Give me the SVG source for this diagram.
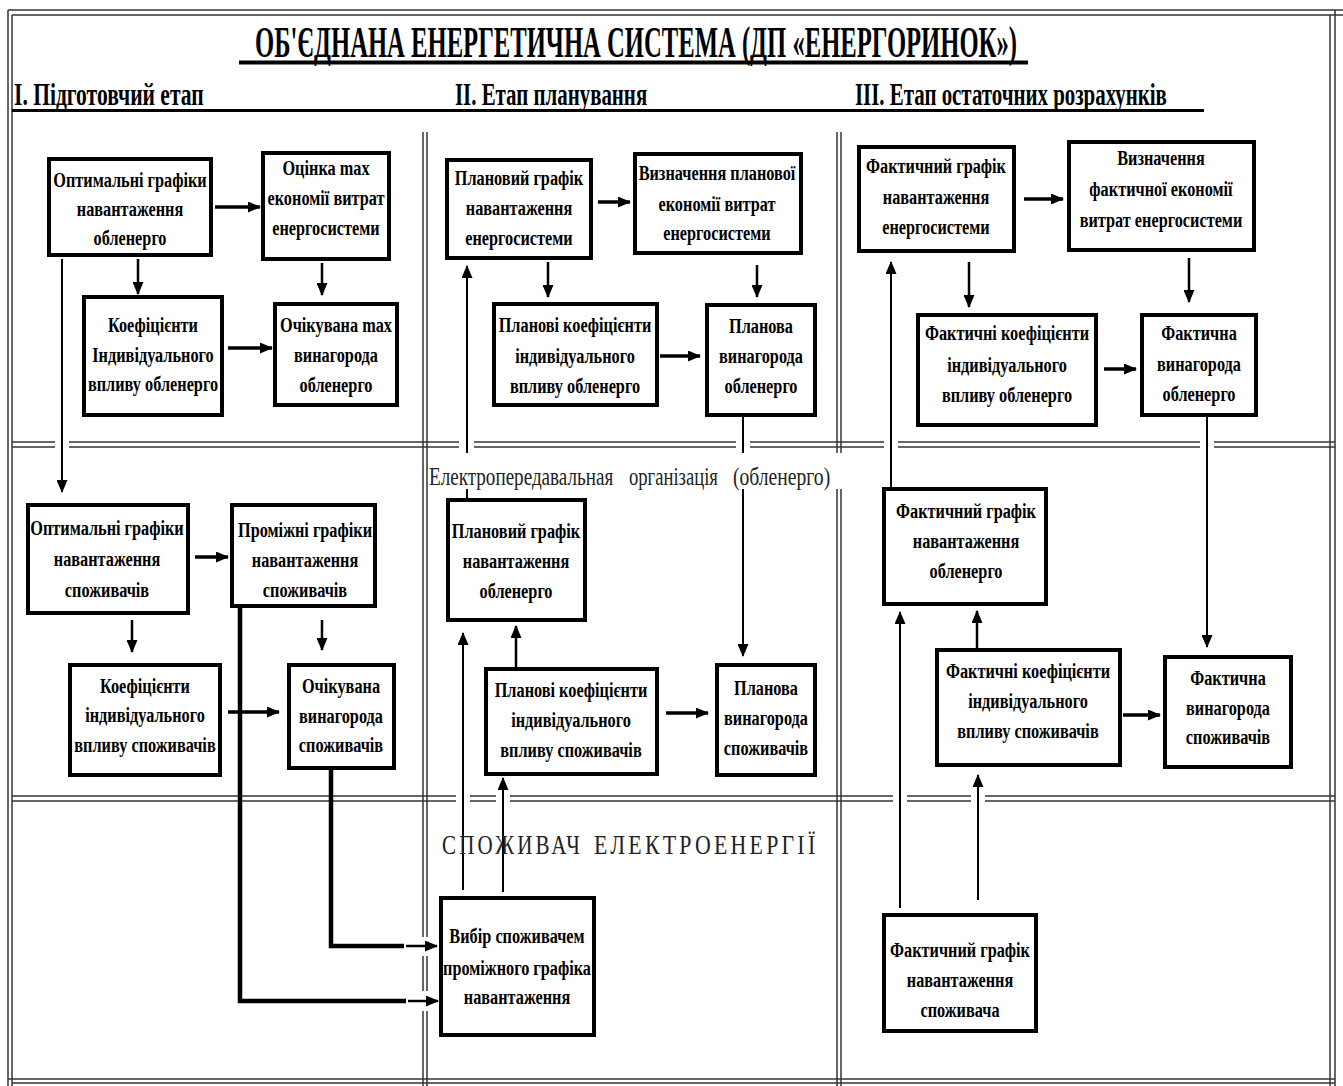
<svg xmlns="http://www.w3.org/2000/svg" width="1343" height="1086" viewBox="0 0 1343 1086">
<style>
.bg{fill:#fff}
.fr{stroke:#333;stroke-width:1.5;fill:none}
.gap{fill:#fff}
.box{fill:#fff;stroke:#000;stroke-width:4}
.t{font-family:"Liberation Serif","Times New Roman",serif;font-weight:bold;font-size:22px;fill:#000;text-anchor:middle}
.hd{font-family:"Liberation Serif","Times New Roman",serif;font-weight:bold;fill:#000}
.lab{font-family:"Liberation Serif","Times New Roman",serif;fill:#222}
.c{fill:none;stroke:#000;stroke-linecap:butt}
.h{stroke-width:3.5}
.v{stroke-width:2.5}
.l{stroke-width:2}
.k{stroke-width:4.5}
</style>
<defs>
<marker id="ah" markerUnits="userSpaceOnUse" markerWidth="13" markerHeight="11" refX="12" refY="5.5" orient="auto"><path d="M0,0 L13,5.5 L0,11 z" fill="#000"/></marker>
</defs>
<rect class="bg" x="0" y="0" width="1343" height="1086"/>

<g id="frame">
<line class="fr" x1="8" y1="10" x2="1343" y2="10"/>
<line class="fr" x1="12" y1="15" x2="1343" y2="15"/>
<line class="fr" x1="8" y1="10" x2="8" y2="1086"/>
<line class="fr" x1="12" y1="15" x2="12" y2="1086"/>
<line class="fr" x1="1330" y1="15" x2="1330" y2="1086"/>
<line class="fr" x1="1335" y1="10" x2="1335" y2="1086"/>
<line class="fr" x1="423" y1="132" x2="423" y2="1086"/>
<line class="fr" x1="427" y1="132" x2="427" y2="1086"/>
<line class="fr" x1="837" y1="132" x2="837" y2="1086"/>
<line class="fr" x1="841" y1="132" x2="841" y2="1086"/>
<line class="fr" x1="12" y1="442" x2="1335" y2="442"/>
<line class="fr" x1="12" y1="447" x2="1335" y2="447"/>
<line class="fr" x1="12" y1="796" x2="1335" y2="796"/>
<line class="fr" x1="12" y1="801" x2="1335" y2="801"/>
<line class="fr" x1="8" y1="1079" x2="1335" y2="1079"/>
<line class="fr" x1="12" y1="1083" x2="1335" y2="1083"/>
</g>

<g id="gaps">
<rect class="gap" x="55" y="439" width="14" height="11"/>
<rect class="gap" x="459" y="439" width="15" height="11"/>
<rect class="gap" x="736" y="439" width="14" height="11"/>
<rect class="gap" x="884" y="439" width="14" height="11"/>
<rect class="gap" x="1200" y="439" width="14" height="11"/>
<rect class="gap" x="456" y="793" width="14" height="11"/>
<rect class="gap" x="496" y="793" width="14" height="11"/>
<rect class="gap" x="893" y="793" width="14" height="11"/>
<rect class="gap" x="971" y="793" width="14" height="11"/>
<rect class="gap" x="420" y="937" width="10" height="19"/>
<rect class="gap" x="420" y="991" width="10" height="20"/>
</g>

<g id="headings">
<text class="hd" transform="matrix(0.6 0 0 1 255 0)" x="0" y="57" font-size="45" textLength="1270" lengthAdjust="spacingAndGlyphs">ОБ'ЄДНАНА ЕНЕРГЕТИЧНА СИСТЕМА (ДП «ЕНЕРГОРИНОК»)</text>
<line x1="239" y1="62.5" x2="1028" y2="62.5" stroke="#000" stroke-width="4"/>
<text class="hd" transform="matrix(0.62 0 0 1 14 0)" x="0" y="105" font-size="32" textLength="306" lengthAdjust="spacingAndGlyphs">І. Підготовчий етап</text>
<text class="hd" transform="matrix(0.62 0 0 1 455 0)" x="0" y="105" font-size="32" textLength="310" lengthAdjust="spacingAndGlyphs">ІІ. Етап планування</text>
<text class="hd" transform="matrix(0.62 0 0 1 855 0)" x="0" y="105" font-size="32" textLength="503" lengthAdjust="spacingAndGlyphs">ІІІ. Етап остаточних розрахунків</text>
<line x1="12" y1="110.5" x2="1204" y2="110.5" stroke="#000" stroke-width="3"/>
</g>

<g id="connectors">
<path class="c h" d="M215,207 H260" marker-end="url(#ah)"/>
<path class="c v" d="M138,259 V294" marker-end="url(#ah)"/>
<path class="c v" d="M322,263 V295" marker-end="url(#ah)"/>
<path class="c h" d="M228,348 H272" marker-end="url(#ah)"/>
<path class="c l" d="M62,259 V492" marker-end="url(#ah)"/>
<path class="c h" d="M195,557 H228" marker-end="url(#ah)"/>
<path class="c v" d="M132,620 V652" marker-end="url(#ah)"/>
<path class="c v" d="M322,620 V650" marker-end="url(#ah)"/>
<path class="c h" d="M228,712 H279" marker-end="url(#ah)"/>
<path class="c k" d="M240,608 V1001 H406"/>
<path class="c k" d="M331,770 V946 H404"/>
<path class="c v" d="M408,1001 H438" marker-end="url(#ah)"/>
<path class="c v" d="M406,946 H437" marker-end="url(#ah)"/>
<path class="c h" d="M598,202 H630" marker-end="url(#ah)"/>
<path class="c v" d="M548,262 V297" marker-end="url(#ah)"/>
<path class="c v" d="M757,265 V297" marker-end="url(#ah)"/>
<path class="c h" d="M660,356 H700" marker-end="url(#ah)"/>
<path class="c l" d="M743,417 V656" marker-end="url(#ah)"/>
<path class="c l" d="M467,498 V266" marker-end="url(#ah)"/>
<path class="c l" d="M463,890 V633" marker-end="url(#ah)"/>
<path class="c l" d="M503,892 V778" marker-end="url(#ah)"/>
<path class="c v" d="M516,667 V626" marker-end="url(#ah)"/>
<path class="c h" d="M666,713 H708" marker-end="url(#ah)"/>
<path class="c h" d="M1024,199 H1063" marker-end="url(#ah)"/>
<path class="c v" d="M969,262 V307" marker-end="url(#ah)"/>
<path class="c v" d="M1189,258 V302" marker-end="url(#ah)"/>
<path class="c h" d="M1104,369 H1136" marker-end="url(#ah)"/>
<path class="c l" d="M1207,417 V647" marker-end="url(#ah)"/>
<path class="c l" d="M891,487 V262" marker-end="url(#ah)"/>
<path class="c l" d="M900,908 V612" marker-end="url(#ah)"/>
<path class="c v" d="M977,648 V611" marker-end="url(#ah)"/>
<path class="c l" d="M978,900 V775" marker-end="url(#ah)"/>
<path class="c h" d="M1123,715 H1160" marker-end="url(#ah)"/>
</g>

<g id="zone-labels">
<rect class="gap" x="429" y="453" width="416" height="36"/>
<text class="lab" transform="matrix(0.74 0 0 1 429 0)" x="0" y="485" font-size="25" textLength="249" lengthAdjust="spacingAndGlyphs">Електропередавальная</text>
<text class="lab" transform="matrix(0.7 0 0 1 629 0)" x="0" y="485" font-size="25" textLength="127" lengthAdjust="spacingAndGlyphs">організація</text>
<text class="lab" transform="matrix(0.72 0 0 1 733 0)" x="0" y="485" font-size="25" textLength="135" lengthAdjust="spacingAndGlyphs">(обленерго)</text>
<text class="lab" transform="matrix(0.85 0 0 1 442 0)" x="0" y="854" font-size="27" fill="#333" textLength="166" lengthAdjust="spacingAndGlyphs" letter-spacing="4">СПОЖИВАЧ</text>
<text class="lab" transform="matrix(0.85 0 0 1 594 0)" x="0" y="854" font-size="27" fill="#333" textLength="264" lengthAdjust="spacingAndGlyphs" letter-spacing="4">ЕЛЕКТРОЕНЕРГІЇ</text>
</g>

<g id="n-opt-obl"><rect class="box" x="49" y="159" width="162" height="96"/>
<text class="t" transform="matrix(0.74 0 0 1 130 0)"><tspan x="0" y="187">Оптимальні графіки</tspan><tspan x="0" y="216">навантаження</tspan><tspan x="0" y="245">обленерго</tspan></text></g>
<g id="n-ocinka"><rect class="box" x="263" y="153" width="126" height="106"/>
<text class="t" transform="matrix(0.74 0 0 1 326 0)"><tspan x="0" y="175">Оцінка max</tspan><tspan x="0" y="205">економії витрат</tspan><tspan x="0" y="235">енергосистеми</tspan></text></g>
<g id="n-koef-obl"><rect class="box" x="84" y="297" width="138" height="118"/>
<text class="t" transform="matrix(0.74 0 0 1 153 0)"><tspan x="0" y="332">Коефіцієнти</tspan><tspan x="0" y="362">Індивідуального</tspan><tspan x="0" y="391">впливу обленерго</tspan></text></g>
<g id="n-ochik-obl"><rect class="box" x="275" y="304" width="122" height="101"/>
<text class="t" transform="matrix(0.74 0 0 1 336 0)"><tspan x="0" y="332">Очікувана max</tspan><tspan x="0" y="362">винагорода</tspan><tspan x="0" y="392">обленерго</tspan></text></g>

<g id="n-opt-spoz"><rect class="box" x="28" y="505" width="160" height="108"/>
<text class="t" transform="matrix(0.74 0 0 1 107 0)"><tspan x="0" y="535">Оптимальні графіки</tspan><tspan x="0" y="566">навантаження</tspan><tspan x="0" y="597">споживачів</tspan></text></g>
<g id="n-promizh"><rect class="box" x="232" y="505" width="143" height="101"/>
<text class="t" transform="matrix(0.74 0 0 1 305 0)"><tspan x="0" y="537">Проміжні графіки</tspan><tspan x="0" y="567">навантаження</tspan><tspan x="0" y="597">споживачів</tspan></text></g>
<g id="n-koef-spoz"><rect class="box" x="70" y="665" width="150" height="110"/>
<text class="t" transform="matrix(0.74 0 0 1 145 0)"><tspan x="0" y="693">Коефіцієнти</tspan><tspan x="0" y="722">індивідуального</tspan><tspan x="0" y="752">впливу споживачів</tspan></text></g>
<g id="n-ochik-spoz"><rect class="box" x="289" y="665" width="105" height="103"/>
<text class="t" transform="matrix(0.74 0 0 1 341 0)"><tspan x="0" y="693">Очікувана</tspan><tspan x="0" y="723">винагорода</tspan><tspan x="0" y="752">споживачів</tspan></text></g>
<g id="n-vybir"><rect class="box" x="441" y="898" width="153" height="137"/>
<text class="t" transform="matrix(0.74 0 0 1 517 0)"><tspan x="0" y="943">Вибір споживачем</tspan><tspan x="0" y="975">проміжного графіка</tspan><tspan x="0" y="1004">навантаження</tspan></text></g>

<g id="n-plan-ener"><rect class="box" x="447" y="160" width="144" height="98"/>
<text class="t" transform="matrix(0.74 0 0 1 519 0)"><tspan x="0" y="185">Плановий графік</tspan><tspan x="0" y="215">навантаження</tspan><tspan x="0" y="245">енергосистеми</tspan></text></g>
<g id="n-vyzn-plan"><rect class="box" x="635" y="154" width="166" height="99"/>
<text class="t" transform="matrix(0.74 0 0 1 717 0)"><tspan x="0" y="180">Визначення планової</tspan><tspan x="0" y="211">економії витрат</tspan><tspan x="0" y="240">енергосистеми</tspan></text></g>
<g id="n-plan-koef-obl"><rect class="box" x="494" y="304" width="163" height="101"/>
<text class="t" transform="matrix(0.74 0 0 1 575 0)"><tspan x="0" y="332">Планові коефіцієнти</tspan><tspan x="0" y="363">індивідуального</tspan><tspan x="0" y="393">впливу обленерго</tspan></text></g>
<g id="n-plan-vyn-obl"><rect class="box" x="707" y="305" width="108" height="110"/>
<text class="t" transform="matrix(0.74 0 0 1 761 0)"><tspan x="0" y="333">Планова</tspan><tspan x="0" y="363">винагорода</tspan><tspan x="0" y="393">обленерго</tspan></text></g>
<g id="n-plan-obl"><rect class="box" x="448" y="500" width="137" height="120"/>
<text class="t" transform="matrix(0.74 0 0 1 516 0)"><tspan x="0" y="538">Плановий графік</tspan><tspan x="0" y="568">навантаження</tspan><tspan x="0" y="598">обленерго</tspan></text></g>
<g id="n-plan-koef-spoz"><rect class="box" x="486" y="669" width="171" height="105"/>
<text class="t" transform="matrix(0.74 0 0 1 571 0)"><tspan x="0" y="697">Планові коефіцієнти</tspan><tspan x="0" y="727">індивідуального</tspan><tspan x="0" y="757">впливу споживачів</tspan></text></g>
<g id="n-plan-vyn-spoz"><rect class="box" x="717" y="665" width="98" height="110"/>
<text class="t" transform="matrix(0.74 0 0 1 766 0)"><tspan x="0" y="695">Планова</tspan><tspan x="0" y="725">винагорода</tspan><tspan x="0" y="755">споживачів</tspan></text></g>

<g id="n-fakt-ener"><rect class="box" x="859" y="147" width="155" height="104"/>
<text class="t" transform="matrix(0.74 0 0 1 936 0)"><tspan x="0" y="173">Фактичний графік</tspan><tspan x="0" y="204">навантаження</tspan><tspan x="0" y="234">енергосистеми</tspan></text></g>
<g id="n-vyzn-fakt"><rect class="box" x="1069" y="142" width="185" height="108"/>
<text class="t" transform="matrix(0.74 0 0 1 1161 0)"><tspan x="0" y="165">Визначення</tspan><tspan x="0" y="196">фактичної економії</tspan><tspan x="0" y="227">витрат енергосистеми</tspan></text></g>
<g id="n-fakt-koef-obl"><rect class="box" x="918" y="315" width="178" height="110"/>
<text class="t" transform="matrix(0.74 0 0 1 1007 0)"><tspan x="0" y="340">Фактичні коефіцієнти</tspan><tspan x="0" y="372">індивідуального</tspan><tspan x="0" y="402">впливу обленерго</tspan></text></g>
<g id="n-fakt-vyn-obl"><rect class="box" x="1142" y="315" width="114" height="100"/>
<text class="t" transform="matrix(0.74 0 0 1 1199 0)"><tspan x="0" y="340">Фактична</tspan><tspan x="0" y="371">винагорода</tspan><tspan x="0" y="401">обленерго</tspan></text></g>
<g id="n-fakt-obl"><rect class="box" x="884" y="489" width="162" height="115"/>
<text class="t" transform="matrix(0.74 0 0 1 966 0)"><tspan x="0" y="518">Фактичний графік</tspan><tspan x="0" y="548">навантаження</tspan><tspan x="0" y="578">обленерго</tspan></text></g>
<g id="n-fakt-koef-spoz"><rect class="box" x="937" y="650" width="183" height="115"/>
<text class="t" transform="matrix(0.74 0 0 1 1028 0)"><tspan x="0" y="678">Фактичні коефіцієнти</tspan><tspan x="0" y="708">індивідуального</tspan><tspan x="0" y="738">впливу споживачів</tspan></text></g>
<g id="n-fakt-vyn-spoz"><rect class="box" x="1165" y="657" width="126" height="110"/>
<text class="t" transform="matrix(0.74 0 0 1 1228 0)"><tspan x="0" y="685">Фактична</tspan><tspan x="0" y="715">винагорода</tspan><tspan x="0" y="744">споживачів</tspan></text></g>
<g id="n-fakt-spoz"><rect class="box" x="884" y="915" width="152" height="116"/>
<text class="t" transform="matrix(0.74 0 0 1 960 0)"><tspan x="0" y="957">Фактичний графік</tspan><tspan x="0" y="987">навантаження</tspan><tspan x="0" y="1017">споживача</tspan></text></g>
</svg>
